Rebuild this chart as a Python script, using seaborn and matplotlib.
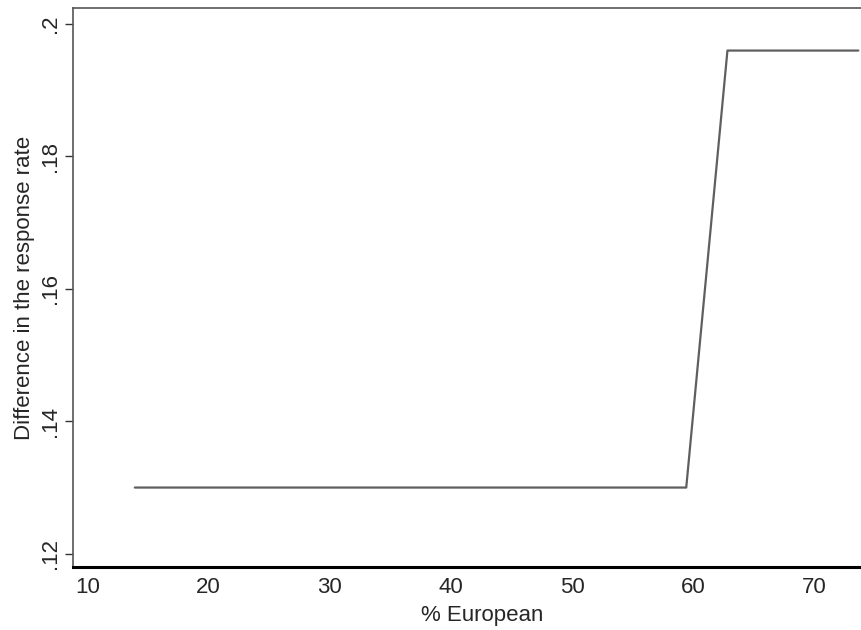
import seaborn as sns
import matplotlib.pyplot as plt
import pandas as pd

# step of the response-rate difference over % European
pct_european = [13.9, 59.4, 62.8, 73.6]
diff_rate = [0.130, 0.130, 0.196, 0.196]

yticks = [0.12, 0.14, 0.16, 0.18, 0.20]
ytick_labels = [".12", ".14", ".16", ".18", ".2"]
xticks = [10, 20, 30, 40, 50, 60, 70]

sns.set_style("white")
plt.rcParams['font.family'] = ['Liberation Sans', 'DejaVu Sans']

df = pd.DataFrame({"pct": pct_european, "diff": diff_rate})

fig = plt.figure(figsize=(8.62, 6.3), dpi=100)
# plot region runs a little past the right edge of the image
ax = fig.add_axes([0.0847, 0.1, 0.949, 0.887])
sns.lineplot(data=df, x="pct", y="diff", ax=ax, color="#5f5f5f", linewidth=1.6,
             sort=False, estimator=None)

ax.set_xlim(8.8, 76.3)
ax.set_ylim(0.118, 0.2024)
ax.set_xticks(xticks)
ax.set_yticks(yticks)
ax.set_yticklabels(ytick_labels, rotation=90, va="center")
ax.tick_params(axis="x", bottom=False, length=0, pad=7, labelsize=16)
ax.tick_params(axis="y", left=True, length=6, width=1, color="#333333", pad=3, labelsize=16)
ax.set_xlabel("% European", fontsize=16, labelpad=5)
ax.set_ylabel("Difference in the response rate", fontsize=16, labelpad=3)

for s in ["left", "top"]:
    ax.spines[s].set_color("#555555")
    ax.spines[s].set_linewidth(1.2)
ax.spines["right"].set_visible(False)
ax.spines["bottom"].set_color("black")
ax.spines["bottom"].set_linewidth(2.2)

fig.savefig("out.png", dpi=100)
